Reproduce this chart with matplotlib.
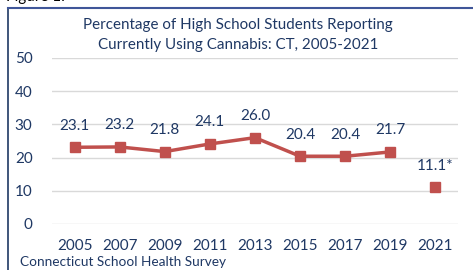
import numpy as np
import matplotlib

matplotlib.use("Agg")
import matplotlib.pyplot as plt
from matplotlib.lines import Line2D

years = ["2005", "2007", "2009", "2011", "2013", "2015", "2017", "2019", "2021"]
values = [23.1, 23.2, 21.8, 24.1, 26.0, 20.4, 20.4, 21.7, 11.1]
labels = ["23.1", "23.2", "21.8", "24.1", "26.0", "20.4", "20.4", "21.7", "11.1*"]
yticks = [0, 10, 20, 30, 40, 50]

navy = "#1F3864"
red = "#C0504D"

plt.rcParams["font.family"] = ["Lato", "DejaVu Sans"]

fig = plt.figure(figsize=(4.73, 2.70), dpi=100)
ax = fig.add_axes([0.110, 0.1704, 0.858, 0.615])

x = np.arange(len(years))
# 2005-2019 joined, 2021 on its own (survey change)
ax.plot(x[:-1], values[:-1], color=red, linewidth=2.5, marker="s", markersize=7.5)
ax.plot(x[-1:], values[-1:], color=red, linestyle="none", marker="s", markersize=7.5)

for xi, v, lab in zip(x, values, labels):
    ax.annotate(lab, (xi, v), xytext=(0, 15.5), textcoords="offset points",
                ha="center", va="center", fontsize=11, color=navy)

ax.set_xlim(-0.5, len(years) - 0.5)
ax.set_ylim(0, 50)
ax.set_yticks(yticks)
ax.set_xticks(x)
ax.set_xticklabels(years)
ax.tick_params(length=0, labelsize=11, labelcolor=navy)
ax.tick_params(axis="y", pad=14)
ax.tick_params(axis="x", pad=11)
ax.grid(axis="y", color="#D9D9D9", linewidth=1)
ax.set_axisbelow(True)
for s in ax.spines.values():
    s.set_visible(False)

fig.text(0.503, 0.870, "Percentage of High School Students Reporting\nCurrently Using Cannabis: CT, 2005-2021",
         ha="center", va="center", fontsize=10.9, color=navy, linespacing=1.55)
fig.text(0.042, 0.03, "Connecticut School Health Survey", ha="left", va="center",
         fontsize=9.8, color=navy)
fig.text(0.012, 0.996, "Figure 1:", ha="left", va="baseline", fontsize=11, color="black")

# frame lines of the text box
fig.add_artist(Line2D([0.016, 0.016], [0, 0.972], color=navy, linewidth=1.2))
fig.add_artist(Line2D([0.016, 1.0], [0.972, 0.972], color="#3F5699", linewidth=1.5))

fig.savefig("out.png", dpi=100)
